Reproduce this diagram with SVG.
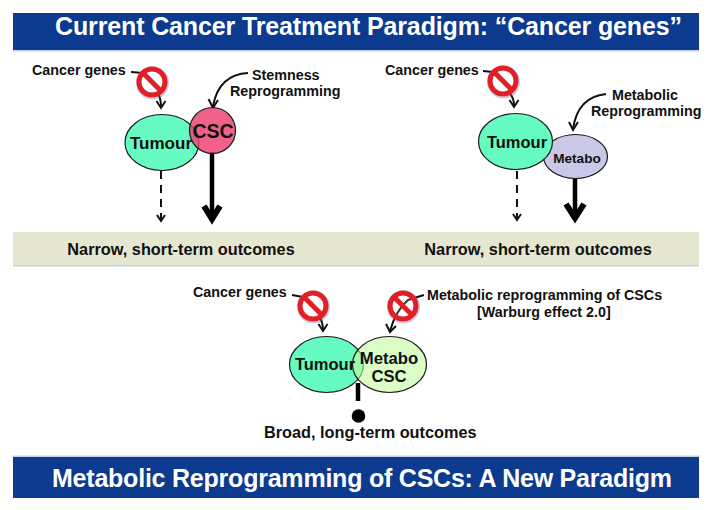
<svg xmlns="http://www.w3.org/2000/svg" width="712" height="510" viewBox="0 0 712 510">
<style>
text{font-family:"Liberation Sans",Arial,sans-serif;font-weight:bold;fill:#111}
.banner{fill:#0b3a8f}
.bt{fill:#fff;font-size:25px}
.band{fill:#e6e7d0}
.lbl{font-size:14.300px}
.out{font-size:16.300px}
.node{stroke:#1a1a1a;stroke-width:1.2}
.tum{fill:#66fbc0}
.tt{font-size:17px}
.line{fill:none;stroke:#111;stroke-width:2}
.thick{fill:none;stroke:#000;stroke-width:4.500}
.head{fill:none;stroke:#111;stroke-width:2}
.bighead{fill:none;stroke:#000;stroke-width:6}
.nr{fill:#fff;fill-opacity:.15;stroke:#e01f26;stroke-width:5}
.nb{stroke:#e01f26;stroke-width:5}
</style>
<defs>
<g id="no">
<circle cx=".5" cy="1" r="15.500" fill="none" stroke="#6a6ab0" stroke-width="2" opacity=".35"/>
<circle class="nr" r="13"/>
<line class="nb" x1="-9" y1="-9" x2="9" y2="9"/>
</g>
</defs>
<rect width="712" height="510" fill="#fff"/>
<g id="banner-top"><rect class="banner" x="13" y="13" width="686" height="37"/><rect x="13" y="50" width="686" height="1.500" fill="#c5d3dc"/><text class="bt" x="368.500" y="35" text-anchor="middle" textLength="627" lengthAdjust="spacing">Current Cancer Treatment Paradigm: “Cancer genes”</text></g>
<g id="band"><rect class="band" x="13" y="232" width="686" height="33"/><rect x="13" y="265" width="686" height="1.500" fill="#c5d3dc"/><text class="out" x="181" y="254.500" text-anchor="middle">Narrow, short-term outcomes</text><text class="out" x="538" y="254.500" text-anchor="middle">Narrow, short-term outcomes</text></g>
<g id="banner-bottom"><rect x="13" y="455.500" width="686" height="1.500" fill="#c5d3dc"/><rect class="banner" x="13" y="457" width="686" height="41"/><text class="bt" x="362" y="487" text-anchor="middle" textLength="620" lengthAdjust="spacing">Metabolic Reprogramming of CSCs: A New Paradigm</text></g>

<g id="connectors">
<path class="line" d="M131 72L143 73"/><path class="line" d="M158 94Q161 98 161 107"/><path class="head" d="M156.500 101L161 108L165.500 101"/>
<path class="line" d="M248 73C228 74 217 85 213 106"/><path class="head" d="M208.500 99L213 108L218 100"/>
<path class="line" stroke-dasharray="8 6" d="M161 171V220"/><path class="head" d="M157 215L161 221L165 215"/>
<path class="thick" d="M212 152V218"/><path class="bighead" d="M204 206L212 219L220 206"/>
<path class="line" d="M483 71L493 72"/><path class="line" d="M509 93Q514 97 514 106"/><path class="head" d="M509.500 100L514 107L518.500 100"/>
<path class="line" d="M606 94C586 96 576 108 573 129"/><path class="head" d="M569 122L573 130L578 122"/>
<path class="line" stroke-dasharray="8 6" d="M517 171V219"/><path class="head" d="M513 214L517 220L521 214"/>
<path class="thick" d="M575 178V217"/><path class="bighead" d="M566 204L575 218L584 204"/>
<path class="line" d="M292 295L303 297"/><path class="line" d="M319 317Q323 321 323 331"/><path class="head" d="M318.500 324L323 331L327.500 324"/>
<path class="line" d="M424 295L408 300Q396 310 390 331"/><path class="head" d="M386 324L390 332L396 326"/>
<path class="thick" d="M358 383V401"/>
</g>

<g id="node-tumour-1"><ellipse class="node tum" cx="162" cy="142.500" rx="37" ry="28"/></g>
<g id="node-csc"><circle class="node" cx="212.500" cy="130.500" r="23" fill="#ee3f72" fill-opacity=".82"/><text x="213" y="138" text-anchor="middle" font-size="19.500">CSC</text></g>
<text class="tt" x="161" y="149" text-anchor="middle">Tumour</text>
<g id="node-metabo"><ellipse class="node" cx="575.500" cy="156.500" rx="32" ry="22" fill="#c9c8e8"/><text x="577" y="163" text-anchor="middle" font-size="13.600">Metabo</text></g>
<g id="node-tumour-2"><ellipse class="node tum" cx="515.500" cy="141.500" rx="37" ry="28"/><text x="517" y="148" text-anchor="middle" font-size="16.500">Tumour</text></g>
<g id="node-tumour-3"><ellipse class="node tum" cx="326.500" cy="364.500" rx="37" ry="28"/></g>
<g id="node-metabo-csc"><ellipse class="node" cx="389.500" cy="364.500" rx="37" ry="28" fill="#c4fb9e" fill-opacity=".6"/><text x="389" y="364" text-anchor="middle" font-size="16.700">Metabo</text><text x="389" y="382" text-anchor="middle" font-size="16.700">CSC</text></g>
<text x="325" y="370" text-anchor="middle" font-size="16.500">Tumour</text>
<g id="node-dot"><circle cx="358.500" cy="416" r="6.800" fill="#000"/></g>

<g id="labels">
<text class="lbl" x="32" y="75">Cancer genes</text>
<text class="lbl" x="252" y="80">Stemness</text><text class="lbl" x="230" y="96">Reprogramming</text>
<text class="lbl" x="385" y="74.500">Cancer genes</text>
<text class="lbl" x="612" y="100">Metabolic</text><text class="lbl" x="591" y="116">Reprogramming</text>
<text class="lbl" x="193" y="297">Cancer genes</text>
<text class="lbl" x="427" y="300">Metabolic reprogramming of CSCs</text><text class="lbl" x="477" y="317">[Warburg effect 2.0]</text>
<text class="out" x="264" y="438">Broad, long-term outcomes</text>
</g>

<g id="no-1"><use href="#no" x="152" y="82"/></g>
<g id="no-2"><use href="#no" x="503" y="81"/></g>
<g id="no-3"><use href="#no" x="313" y="306"/></g>
<g id="no-4"><use href="#no" x="403" y="306"/></g>
</svg>
